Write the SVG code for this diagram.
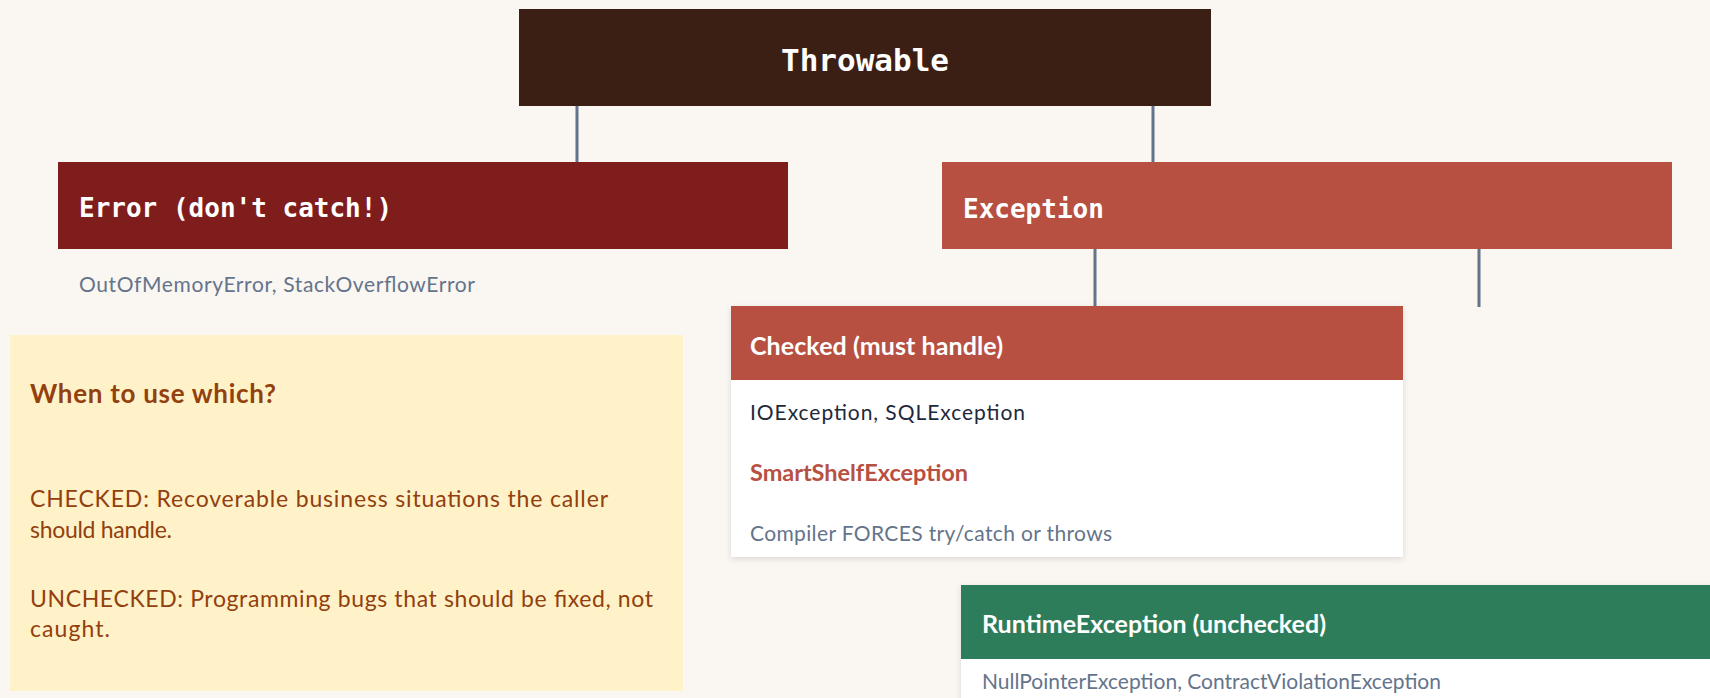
<svg xmlns="http://www.w3.org/2000/svg" width="1710" height="698" viewBox="0 0 1710 698">
<defs>
<style>
.mono{font-family:"DejaVu Sans Mono","Liberation Mono",monospace;font-weight:bold;fill:#ffffff}
.body{font-family:Lato,"Open Sans","Liberation Sans",sans-serif}
.b{font-weight:bold}
.conn{stroke:#64748b;stroke-width:3;fill:none}
.gray{fill:#64748b}
.dark{fill:#1e293b}
.amber{fill:#92400e}
.white{fill:#ffffff}
</style>
<filter id="sh" x="-5%" y="-5%" width="110%" height="115%">
<feDropShadow dx="0" dy="2" stdDeviation="3" flood-color="#000000" flood-opacity="0.12"/>
</filter>
</defs>
<rect x="0" y="0" width="1710" height="698" fill="#faf6f2"/>
<g id="connectors">
<line class="conn" x1="577" y1="106" x2="577" y2="162"/>
<line class="conn" x1="1153" y1="106" x2="1153" y2="162"/>
<line class="conn" x1="1095" y1="248" x2="1095" y2="306"/>
<line class="conn" x1="1479" y1="248" x2="1479" y2="307"/>
</g>
<g id="throwable">
<rect x="519" y="9" width="692" height="97" fill="#3c1f14"/>
<text class="mono" x="865" y="71" font-size="31" text-anchor="middle">Throwable</text>
</g>
<g id="error">
<rect x="58" y="162" width="730" height="87" fill="#7f1d1d"/>
<text class="mono" x="79" y="217" font-size="26">Error (don't catch!)</text>
<text class="body gray" x="79" y="292" font-size="21" textLength="396">OutOfMemoryError, StackOverflowError</text>
</g>
<g id="exception">
<rect x="942" y="162" width="730" height="87" fill="#b85042"/>
<text class="mono" x="963" y="218" font-size="26">Exception</text>
</g>
<g id="checked">
<rect x="731" y="306" width="672" height="251" fill="#ffffff" filter="url(#sh)"/>
<rect x="731" y="306" width="672" height="74" fill="#b85042"/>
<text class="body b white" x="750" y="355" font-size="25" textLength="253">Checked (must handle)</text>
<text class="body dark" x="750" y="420" font-size="21" textLength="275">IOException, SQLException</text>
<text class="body b" x="750" y="481" font-size="23.5" fill="#b85042" textLength="218">SmartShelfException</text>
<text class="body gray" x="750" y="541" font-size="21" textLength="362">Compiler FORCES try/catch or throws</text>
</g>
<g id="runtime">
<rect x="961" y="585" width="760" height="130" fill="#ffffff" filter="url(#sh)"/>
<rect x="961" y="585" width="760" height="74" fill="#2e7d5a"/>
<text class="body b white" x="982" y="633" font-size="25" textLength="344">RuntimeException (unchecked)</text>
<text class="body gray" x="982" y="689" font-size="21">NullPointerException, ContractViolationException</text>
</g>
<g id="note">
<rect x="10" y="335" width="673" height="356" fill="#fff2c8"/>
<text class="body b amber" x="30" y="403" font-size="26" textLength="246">When to use which?</text>
<text class="body amber" x="30" y="507" font-size="23" textLength="578">CHECKED: Recoverable business situations the caller</text>
<text class="body amber" x="30" y="538" font-size="23" textLength="142">should handle.</text>
<text class="body amber" x="30" y="607" font-size="23" textLength="623">UNCHECKED: Programming bugs that should be fixed, not</text>
<text class="body amber" x="30" y="637" font-size="23" textLength="80">caught.</text>
</g>
</svg>
